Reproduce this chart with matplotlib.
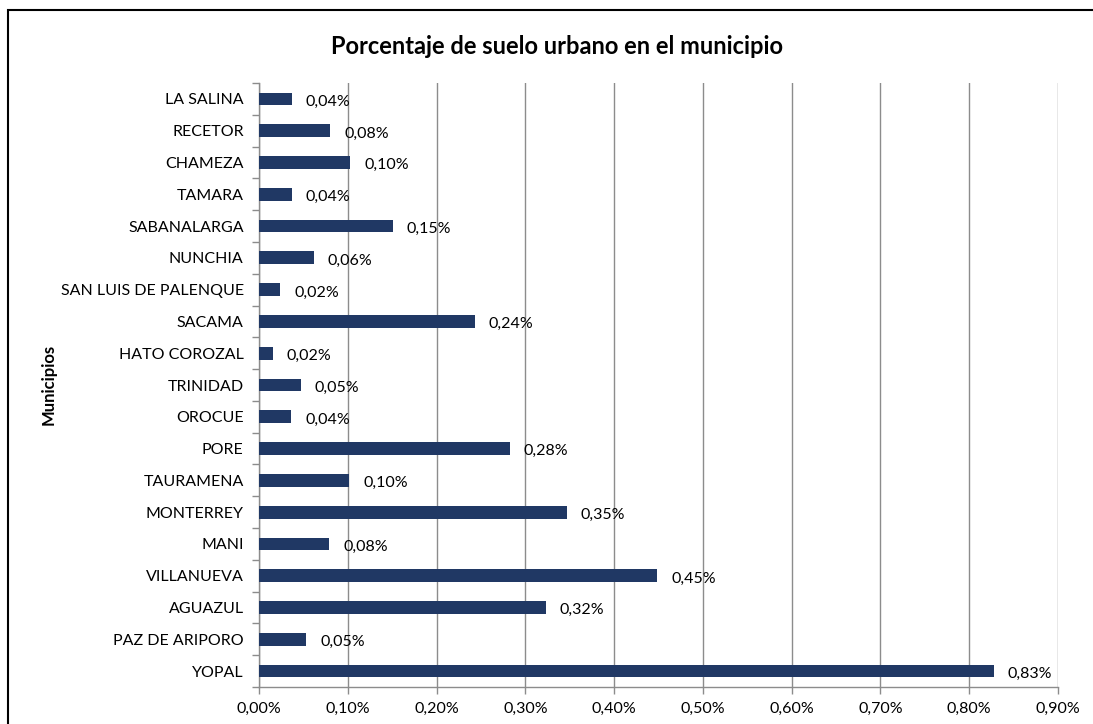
import matplotlib
matplotlib.use("Agg")
import matplotlib.pyplot as plt
import numpy as np
from matplotlib.patches import Rectangle
from matplotlib.ticker import FuncFormatter, FixedLocator

plt.rcParams['font.family'] = ['Lato', 'DejaVu Sans']

# Categories listed bottom to top
municipios = ["YOPAL", "PAZ DE ARIPORO", "AGUAZUL", "VILLANUEVA", "MANI", "MONTERREY",
              "TAURAMENA", "PORE", "OROCUE", "TRINIDAD", "HATO COROZAL", "SACAMA",
              "SAN LUIS DE PALENQUE", "NUNCHIA", "SABANALARGA", "TAMARA", "CHAMEZA",
              "RECETOR", "LA SALINA"]
porcentaje = [0.828, 0.0534, 0.323, 0.4486, 0.079, 0.347,
              0.1016, 0.2825, 0.0364, 0.0474, 0.0158, 0.243,
              0.0239, 0.0615, 0.151, 0.037, 0.103,
              0.0803, 0.0368]
x_ticks = [0.0, 0.1, 0.2, 0.3, 0.4, 0.5, 0.6, 0.7, 0.8, 0.9]

W, H = 1093, 724
fig = plt.figure(figsize=(W / 100, H / 100), dpi=100)
left, right, top, bottom = 259, 1058, 83, 687
ax = fig.add_axes([left / W, 1 - bottom / H, (right - left) / W, (bottom - top) / H])

bar_color = "#203864"
grid_color = "#8C8C8C"
fs = 11.5
y = np.arange(len(municipios))
ax.barh(y, porcentaje, height=0.4, color=bar_color, zorder=3)

def fmt(v):
    return f"{v:.2f}%".replace(".", ",")

for yi, v in zip(y, porcentaje):
    ax.annotate(fmt(v), xy=(v, yi), xytext=(10, -2), textcoords="offset points",
                ha="left", va="center", fontsize=fs, color="black", zorder=4)

ax.set_xlim(0, 0.9)
ax.set_ylim(-0.5, len(municipios) - 0.5)
ax.set_xticks(x_ticks)
ax.xaxis.set_major_formatter(FuncFormatter(lambda v, p: fmt(v)))
ax.set_yticks(y)
ax.set_yticklabels(municipios)
ax.yaxis.set_minor_locator(FixedLocator(np.arange(-0.5, len(municipios), 1.0)))
ax.tick_params(axis="y", which="major", length=0, pad=11, labelsize=fs)
ax.tick_params(axis="y", which="minor", length=5, color=grid_color, width=1)
ax.tick_params(axis="x", which="major", length=5, color=grid_color, width=1, labelsize=fs, pad=6)

ax.grid(axis="x", color=grid_color, linewidth=1, zorder=0)
for s in ["top", "right"]:
    ax.spines[s].set_visible(False)
for s in ["left", "bottom"]:
    ax.spines[s].set_color(grid_color)
    ax.spines[s].set_linewidth(1)

ax.set_ylabel("Municipios", fontsize=12, fontweight="bold")
ax.yaxis.set_label_coords((49 - left) / (right - left), (bottom - 384) / (bottom - top))
ax.yaxis.label.set_va("center")

fig.text(557 / W, 1 - 46 / H, "Porcentaje de suelo urbano en el municipio",
         ha="center", va="center", fontsize=17, fontweight="bold")

fig.patches.append(Rectangle((8 / W, -0.1), 1.2, 1 - 10 / H + 0.1, transform=fig.transFigure,
                             fill=False, edgecolor="black", linewidth=1.5, clip_on=False))

fig.savefig("out.png", dpi=100)
